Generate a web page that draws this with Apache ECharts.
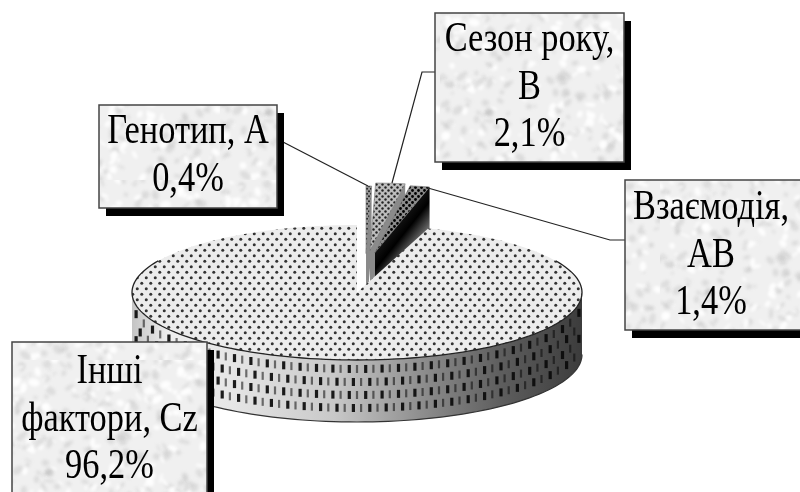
<!DOCTYPE html>
<html>
<head>
<meta charset="utf-8">
<style>
html,body{margin:0;padding:0;background:#fff;overflow:hidden}
#main{width:800px;height:492px;filter:blur(0.45px)}
</style>
<script src="https://cdn.jsdelivr.net/npm/echarts@6/dist/echarts.min.js"></script>
</head>
<body>
<div id="main"></div>
<script>
/*==数据==*/
var categories = ['Генотип, А', 'Сезон року,\nВ', 'Взаємодія,\nАВ', 'Інші\nфактори, Cz'];
var shares = [0.4, 2.1, 1.4, 96.2];

/*==饼图几何==*/
var cx = 357, cy = 292.5, rx = 225, ry = 67.5, depth = 62;
var mainGap = 4.4; // gap in degrees in front of the big slice
var explode = [[9, -39], [13, -42], [18, -40], [0, 0]];
var total = shares.reduce(function(a, b){ return a + b; }, 0);

/*==标注框==*/
var boxes = [
    {x: 99, y: 105, w: 178, h: 103, textY: 156, line: [[283, 142], [368, 186]]},
    {x: 435, y: 13, w: 189, h: 149, textY: 88, line: [[435, 72], [422, 72], [392, 183]]},
    {x: 625, y: 180, w: 180, h: 150, textY: 256, textX: 711, line: [[625, 240], [610, 240], [428, 188]]},
    {x: 12, y: 342, w: 195, h: 170, textY: 420, line: null}
];

/*==纹理==*/
function tile(w, h, draw){
    var c = document.createElement('canvas');
    c.width = w; c.height = h;
    draw(c.getContext('2d'));
    return {image: c, repeat: 'repeat'};
}
function dots(w, h, bg, fg, r){
    return tile(w, h, function(ctx){
        if(bg){ ctx.fillStyle = bg; ctx.fillRect(0, 0, w, h); }
        ctx.fillStyle = fg;
        [[w * 0.25, h * 0.25], [w * 0.75, h * 0.75]].forEach(function(p){
            ctx.beginPath(); ctx.arc(p[0], p[1], r, 0, Math.PI * 2); ctx.fill();
        });
    });
}
var topPattern = dots(9, 11, '#ececec', '#333', 1.5);
var slicePatterns = [dots(4, 5, '#999', '#222', 1), dots(6, 6, '#bdbdbd', '#222', 1.2), dots(6, 6, '#8c8c8c', '#000', 1.4)];
var boxPattern = tile(220, 180, function(ctx){
    var seed = 7;
    function next(){ seed = (seed * 16807) % 2147483647; return seed / 2147483647; }
    ctx.fillStyle = '#f0f0f0';
    ctx.fillRect(0, 0, 220, 180);
    ctx.filter = 'blur(1.5px)';
    for(var i = 0; i < 420; i++){
        ctx.fillStyle = next() > 0.65 ? 'rgba(255,255,255,0.9)' : 'rgba(185,185,185,0.35)';
        ctx.beginPath();
        ctx.ellipse(next() * 220, next() * 180, 1 + next() * 5, 1 + next() * 3, next() * 3, 0, Math.PI * 2);
        ctx.fill();
    }
});

/*==工具函数==*/
function pt(a, ox, oy){ // clockwise from 12 o'clock, degrees
    var t = a * Math.PI / 180;
    return [cx + ox + rx * Math.sin(t), cy + oy - ry * Math.cos(t)];
}
function arc(a0, a1, ox, oy){
    var out = [], n = Math.max(2, Math.ceil((a1 - a0) / 2));
    for(var i = 0; i <= n; i++){
        out.push(pt(a0 + (a1 - a0) * i / n, ox, oy));
    }
    return out;
}
function poly(points, style){
    return {type: 'polygon', shape: {points: points}, style: style};
}
function line(points, color, width){
    return {type: 'polyline', shape: {points: points}, style: {fill: null, stroke: color, lineWidth: width}};
}
var wallFill = {
    type: 'linear', x: 132, y: 0, x2: 582, y2: 0, global: true,
    colorStops: [
        {offset: 0, color: '#c4c4c4'}, {offset: 0.08, color: '#eeeeee'}, {offset: 0.22, color: '#e6e6e6'},
        {offset: 0.45, color: '#c8c8c8'}, {offset: 0.65, color: '#8c8c8c'}, {offset: 0.82, color: '#5e5e5e'},
        {offset: 1, color: '#3c3c3c'}
    ]
};
var cutFill = {
    type: 'linear', x: 400, y: 222, x2: 420, y2: 238, global: true,
    colorStops: [{offset: 0, color: '#111'}, {offset: 0.4, color: '#000'}, {offset: 1, color: '#666'}]
};

/*==侧面短划线，随椭圆弯曲==*/
function wallDashes(){
    var rows = [5, 18, 31, 44], step = 8.2, out = [];
    rows.forEach(function(dy, r){
        var col = 0;
        for(var x = cx - rx + 4 + (r % 2) * step / 2; x < cx + rx - 3; x += step){
            var u = (x - cx) / rx;
            var y = cy + ry * Math.sqrt(1 - u * u);
            out.push({type: 'rect', shape: {x: x - 1.5, y: y + dy, width: col % 2 ? 2.2 : 3.2, height: 8},
                style: {fill: col % 2 ? 'rgba(10,10,10,0.55)' : 'rgba(10,10,10,0.92)'}});
            col++;
        }
    });
    return out;
}

/*==扇形==*/
function renderSlice(params, api){
    var i = api.value(1), before = 0;
    for(var k = 0; k < i; k++){ before += shares[k]; }
    var a0 = before / total * 360, a1 = (before + api.value(0)) / total * 360;
    var ox = explode[i][0], oy = explode[i][1];
    var children = [];
    if(i < 3){
        // small raised slices: right cut face, then the patterned top
        var tip = [cx + ox, cy + oy], outer = pt(a1, ox, oy);
        children.push(poly([tip, outer, [outer[0], outer[1] + depth], [tip[0], tip[1] + depth]], {
            fill: i == 2 ? cutFill : '#8a8a8a', stroke: null
        }));
        children.push(poly([tip].concat(arc(a0, a1, ox, oy)), {fill: slicePatterns[i], stroke: '#777', lineWidth: 0.6}));
    }else{
        a0 += mainGap;
        var front = arc(90, 270, 0, 0);
        var bottom = front.map(function(p){ return [p[0], p[1] + depth]; }).reverse();
        children.push(poly(front.concat(bottom), {fill: wallFill}));
        children = children.concat(wallDashes());
        children.push(poly([[cx, cy]].concat(arc(a0, a1, 0, 0)), {fill: topPattern}));
        children.push(line(arc(62, 298, 0, 0), '#222', 1.3));
        children.push(line(bottom, '#333', 1.2));
    }
    return {type: 'group', children: children};
}

/*==标注==*/
function renderLabel(params, api){
    var i = api.value(1), b = boxes[i];
    var text = categories[i] + '\n' + String(api.value(0)).replace('.', ',') + '%';
    var children = [];
    if(b.line){ children.push(line(b.line, '#222', 1.2)); }
    children.push({type: 'rect', shape: {x: b.x + 7, y: b.y + 8, width: b.w, height: b.h}, style: {fill: '#000'}});
    children.push({type: 'rect', shape: {x: b.x, y: b.y, width: b.w, height: b.h},
        style: {fill: boxPattern, stroke: '#444', lineWidth: 1.5}});
    children.push({type: 'text', x: b.textX || (b.x + b.w / 2), y: b.textY, scaleX: 0.93, scaleY: 1.12, style: {
        x: 0, y: 0, text: text, align: 'center', verticalAlign: 'middle',
        font: '37px "Liberation Serif"', lineHeight: 42.4, fill: '#000'
    }});
    return {type: 'group', children: children};
}

var chartData = shares.map(function(v, i){ return [v, i]; });
var myChart = echarts.init(document.getElementById('main'), null, {renderer: 'canvas'});
myChart.setOption({
    animation: false,
    backgroundColor: '#fff',
    series: [
        {type: 'custom', coordinateSystem: 'none', renderItem: renderSlice, data: chartData, silent: true},
        {type: 'custom', coordinateSystem: 'none', renderItem: renderLabel, data: chartData, silent: true, z: 3}
    ]
});
</script>
</body>
</html>
